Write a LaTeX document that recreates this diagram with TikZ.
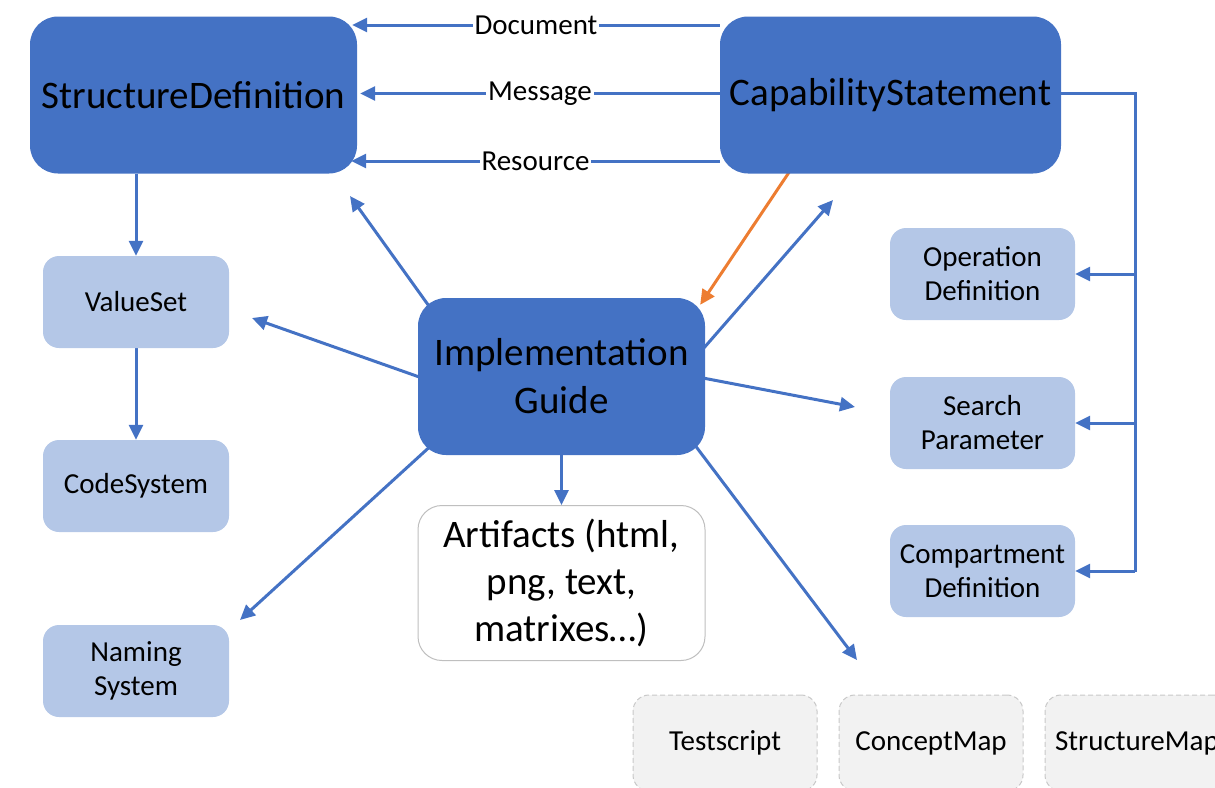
\documentclass[tikz,border=0pt]{standalone}
\usepackage{fontspec}
\setmainfont{Carlito}
\usetikzlibrary{arrows.meta,calc,backgrounds}
\definecolor{dblue}{HTML}{4472C4}
\definecolor{lblue}{HTML}{B4C7E7}
\definecolor{orng}{HTML}{ED7D31}
\definecolor{gbord}{HTML}{BFBFBF}
\definecolor{gfill}{HTML}{F2F2F2}
\definecolor{dbord}{HTML}{C8C8C8}
\begin{document}
\begin{tikzpicture}[x=1pt,y=-1pt,
 bigtxt/.style={font=\fontsize{39}{48}\selectfont},
 smalltxt/.style={font=\fontsize{29}{34}\selectfont},
 darkbox/.style={rectangle, rounded corners=28pt, fill=dblue, inner sep=0pt, align=center, minimum height=157pt, bigtxt},
 lightbox/.style={rectangle, rounded corners=16pt, fill=lblue, minimum width=186pt, minimum height=92pt, inner sep=0pt, align=center, smalltxt},
 artbox/.style={rectangle, rounded corners=24pt, fill=white, draw=gbord, line width=1pt, minimum width=287pt, minimum height=155pt, inner sep=0pt, align=center, font=\fontsize{39}{47}\selectfont},
 graybox/.style={rectangle, rounded corners=16pt, fill=gfill, draw=dbord, dash pattern=on 5pt off 3pt, line width=1pt, minimum width=184pt, minimum height=96pt, inner sep=0pt, smalltxt},
 arr/.style={draw=dblue, line width=3pt, -{Triangle[length=15pt,width=14pt]}},
 oarr/.style={draw=orng, line width=3pt, -{Triangle[length=15pt,width=14pt]}},
 ln/.style={draw=dblue, line width=3pt},
 lbl/.style={fill=white, inner sep=2pt, smalltxt}
]
\useasboundingbox (0,0) rectangle (1215,787);
\clip (0,0) rectangle (1215,787);

% main nodes
\node[darkbox, minimum width=327pt] (SD) at (193.5,95) {StructureDefinition};
\node[darkbox, minimum width=341pt] (CS) at (890.5,95) {CapabilityStatement};
\node[darkbox, minimum width=287pt] (IG) at (561.5,376.5) {Implementation\\Guide};
\node[artbox] (Art) at (561.5,583) {Artifacts (html,\\png, text,\\matrixes…)};

\node[lightbox] (VS) at (136,302) {ValueSet};
\node[lightbox] (CdS) at (136,486) {CodeSystem};
\node[lightbox] (NS) at (136,671) {Naming\\System};

\node[lightbox, minimum width=185pt] (OD) at (982.5,274) {Operation\\Definition};
\node[lightbox, minimum width=185pt] (SP) at (982.5,423) {Search\\Parameter};
\node[lightbox, minimum width=185pt] (CD) at (982.5,571) {Compartment\\Definition};

\node[graybox] (TS) at (725,743) {Testscript};
\node[graybox] (CM) at (931,743) {ConceptMap};
\node[graybox] (SM) at (1137,743) {StructureMap};

% free ends
\coordinate (busT) at (1135,93.5);
\coordinate (busB) at (1135,572);
\coordinate (eSD) at (350,196);
\coordinate (eVS) at (252,318);
\coordinate (eCS) at (833,200);
\coordinate (eSP) at (855,407);
\coordinate (eNS) at (240,620);
\coordinate (eBR) at (857,660);

\begin{scope}[on background layer]
% CapabilityStatement -> StructureDefinition
\draw[arr] (CS.west |- 0,25) -- node[lbl] {Document} ($(SD.east |- 0,25)+(-5,0)$);
\draw[arr] (CS.west |- 0,93.5) -- node[lbl] {Message} ($(SD.east |- 0,93.5)+(3,0)$);
\draw[arr] (CS.west |- 0,161) -- node[lbl] {Resource} ($(SD.east |- 0,161)+(-6,0)$);

% bus on the right
\draw[ln] (CS.east |- busT) -- (busT) -- (busB);
\draw[arr] (OD.east -| busT) -- (OD.east);
\draw[arr] (SP.east -| busT) -- (SP.east);
\draw[arr] (CD.east -| busT) -- (CD.east);

% left column
\draw[arr] (SD.south -| VS.north) -- (VS.north);
\draw[arr] (VS.south) -- (CdS.north);

% from Implementation Guide
\draw[arr] ($(IG.north west)+(16,15)$) -- (eSD);
\draw[arr] ($(IG.west)+(10,3.5)$) -- (eVS);
\draw[arr] ($(IG.east)+(-7,-22)$) -- (eCS);
\draw[arr] ($(IG.east)+(-5,1)$) -- (eSP);
\draw[arr] (IG.south) -- (Art.north);
\draw[arr] ($(IG.south west)+(17,-13)$) -- (eNS);
\draw[arr] ($(IG.south east)+(-14,-15)$) -- (eBR);

% orange
\draw[oarr] ($(CS.south west)+(75,-10)$) -- ($(IG.north east)+(-5,7)$);
\end{scope}
\end{tikzpicture}
\end{document}
